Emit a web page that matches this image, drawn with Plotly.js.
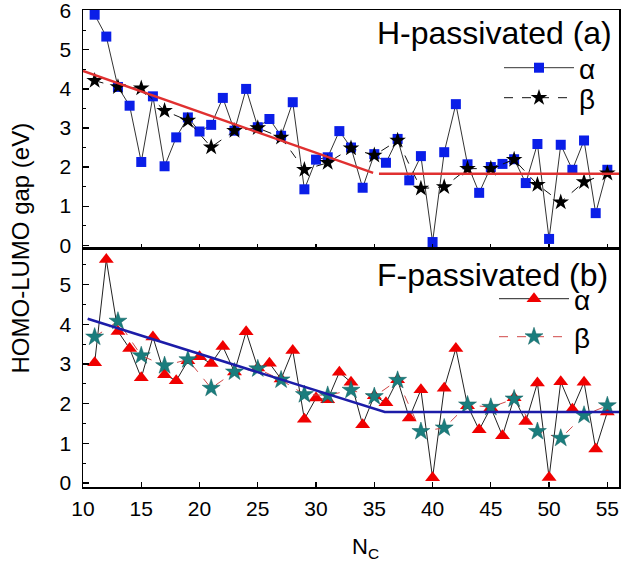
<!DOCTYPE html>
<html>
<head>
<meta charset="utf-8">
<script src="https://cdn.plot.ly/plotly-3.0.1.min.js"></script>
<style>html,body{margin:0;padding:0;background:#fff;}#chart{width:625px;height:571px;}</style>
</head>
<body>
<div id="chart"></div>
<script>
// Number of carbon atoms
const nAll = [11,12,13,14,15,16,17,18,19,20,21,22,23,24,25,26,27,28,29,30,31,32,33,34,35,36,37,38,39,40,41,42,43,44,45,46,47,48,49,50,51,52,53,54,55];
const nOdd = [11,13,15,17,19,21,23,25,27,29,31,33,35,37,39,41,43,45,47,49,51,53,55];

// (a) H-passivated
const hAlpha = [5.9,5.34,4.05,3.57,2.13,3.81,2.02,2.76,3.27,2.91,3.08,3.77,2.93,4.0,3.02,3.23,2.8,3.66,1.43,2.19,2.25,2.92,2.5,1.47,2.33,2.11,2.72,1.66,2.28,0.08,2.38,3.61,2.07,1.34,2.0,2.08,2.2,1.59,2.59,0.16,2.57,1.93,2.68,0.82,1.93];
const hBeta = [4.21,4.05,4.02,3.44,3.19,2.51,2.93,3.0,2.76,1.93,2.11,2.48,2.30,2.68,1.45,1.49,1.96,1.96,2.19,1.55,1.1,1.62,1.84];
const hFit1X = [10, 34.9];
const hFit1Y = [4.46, 1.85];
const hFit2X = [35.4, 56];
const hFit2Y = [1.83, 1.83];

// (b) F-passivated
const fAlpha = [3.03,5.63,3.82,3.39,2.65,3.68,2.73,2.58,3.08,3.18,3.01,3.44,2.8,3.81,2.9,3.02,2.62,3.34,1.61,2.14,2.1,2.79,2.54,1.47,2.2,2.02,2.6,1.64,2.35,0.13,2.39,3.39,1.95,1.34,1.9,1.19,2.15,1.55,2.52,0.14,2.55,1.86,2.54,0.86,1.79];
const fBeta = [3.68,4.08,3.21,2.96,3.11,2.39,2.8,2.88,2.6,2.23,2.21,2.34,2.18,2.59,1.3,1.39,1.97,1.91,2.12,1.3,1.13,1.71,1.95];
const fFitX = [10.4, 35.9, 56];
const fFitY = [4.14, 1.79, 1.79];

const xTicks = [10,15,20,25,30,35,40,45,50,55];
const yTicksTop = [0,1,2,3,4,5,6];
const yTicksBot = [0,1,2,3,4,5];
const labels = {alpha:'α', beta:'β', titleA:'H-passivated (a)', titleB:'F-passivated (b)', yTitle:'HOMO-LUMO gap (eV)', xTitle:'N<sub>C</sub>'};

const FONT = 'Liberation Sans, Arial, sans-serif';

const traces = [
  {x:nAll, y:hAlpha, xaxis:'x2', yaxis:'y', mode:'lines+markers', name:labels.alpha, legend:'legend',
   line:{color:'#333333', width:1}, marker:{symbol:'square', size:10, color:'#0a1ee8', line:{color:'#0a1ee8', width:0}}, cliponaxis:false},
  {x:nOdd, y:hBeta, xaxis:'x2', yaxis:'y', mode:'lines+markers', name:labels.beta, legend:'legend2',
   line:{color:'#111111', width:1, dash:'dash'}, marker:{symbol:'star', size:12.5, color:'#000000'}},
  {x:hFit1X, y:hFit1Y, xaxis:'x2', yaxis:'y', mode:'lines', showlegend:false, line:{color:'#e03030', width:2.5}},
  {x:hFit2X, y:hFit2Y, xaxis:'x2', yaxis:'y', mode:'lines', showlegend:false, line:{color:'#e03030', width:2.5}},

  {x:nAll, y:fAlpha, xaxis:'x', yaxis:'y2', mode:'lines+markers', name:labels.alpha, legend:'legend3',
   line:{color:'#222222', width:1}, marker:{symbol:'triangle-up', size:13, color:'#f00000'}},
  {x:nOdd, y:fBeta, xaxis:'x', yaxis:'y2', mode:'lines+markers', name:labels.beta, legend:'legend4',
   line:{color:'#d04848', width:1, dash:'dash'}, marker:{symbol:'star', size:13.5, color:'#1a7d7d', line:{color:'#0f5f5f', width:0.5}}},
  {x:fFitX, y:fFitY, xaxis:'x', yaxis:'y2', mode:'lines', showlegend:false, line:{color:'#1c1ca8', width:2.5}}
];

const axisCommon = {
  showgrid:false, zeroline:false, showline:true, linecolor:'#000', linewidth:1.5, mirror:true,
  ticks:'inside', tickcolor:'#000', tickwidth:1.2,
  tickfont:{family:FONT, size:21, color:'#000'}
};

function legendAt(x, y) {
  return {x:x, y:y, xanchor:'left', yanchor:'middle', bgcolor:'rgba(0,0,0,0)', borderwidth:0,
    font:{family:FONT, size:28, color:'#000'}, itemwidth:70, tracegroupgap:0};
}

const W = 536, H = 477;
const layout = {
  width:625, height:571,
  margin:{l:83, r:6, t:10, b:84},
  paper_bgcolor:'#fff', plot_bgcolor:'#fff',
  font:{family:FONT, color:'#000'},
  xaxis: Object.assign({}, axisCommon, {anchor:'y2', domain:[0,1], range:[10,56], tickvals:xTicks, ticklen:5, ticklabelstandoff:2}),
  xaxis2: Object.assign({}, axisCommon, {anchor:'y', domain:[0,1], range:[10,56], matches:'x', tickvals:xTicks, ticklen:5, showticklabels:false}),
  yaxis: Object.assign({}, axisCommon, {anchor:'x2', domain:[0.5,1], range:[-0.085,6.02], tickvals:yTicksTop, ticklen:6, ticklabelstandoff:6,
    ticklabeloverflow:'allow', minor:{dtick:0.5, tick0:0, ticks:'inside', ticklen:3, tickcolor:'#000', tickwidth:1}}),
  yaxis2: Object.assign({}, axisCommon, {anchor:'x', domain:[0,0.5], range:[-0.1,5.91], tickvals:yTicksBot, ticklen:6, ticklabelstandoff:6,
    minor:{dtick:0.5, tick0:0, ticks:'inside', ticklen:3, tickcolor:'#000', tickwidth:1}}),
  legend: legendAt((499-83)/W, (487-68)/H),
  legend2: legendAt((499-83)/W, (487-98)/H),
  legend3: legendAt((494-83)/W, (487-299)/H),
  legend4: legendAt((494-83)/W, (487-337)/H),
  annotations:[
    {xref:'paper', yref:'paper', x:(614-83)/W, y:(487-33)/H, xanchor:'right', yanchor:'middle', showarrow:false,
     text:labels.titleA, font:{family:FONT, size:32, color:'#000'}},
    {xref:'paper', yref:'paper', x:(610-83)/W, y:(487-275)/H, xanchor:'right', yanchor:'middle', showarrow:false,
     text:labels.titleB, font:{family:FONT, size:32, color:'#000'}},
    {xref:'paper', yref:'paper', x:(20-83)/W, y:0.5, xanchor:'center', yanchor:'middle', showarrow:false, textangle:-90,
     text:labels.yTitle, font:{family:FONT, size:24, color:'#000'}},
    {xref:'paper', yref:'paper', x:(350-83)/W, y:(487-548)/H, xanchor:'left', yanchor:'middle', showarrow:false,
     text:labels.xTitle, font:{family:FONT, size:22, color:'#000'}}
  ]
};

Plotly.newPlot('chart', traces, layout, {displayModeBar:false, staticPlot:true});
</script>
</body>
</html>
